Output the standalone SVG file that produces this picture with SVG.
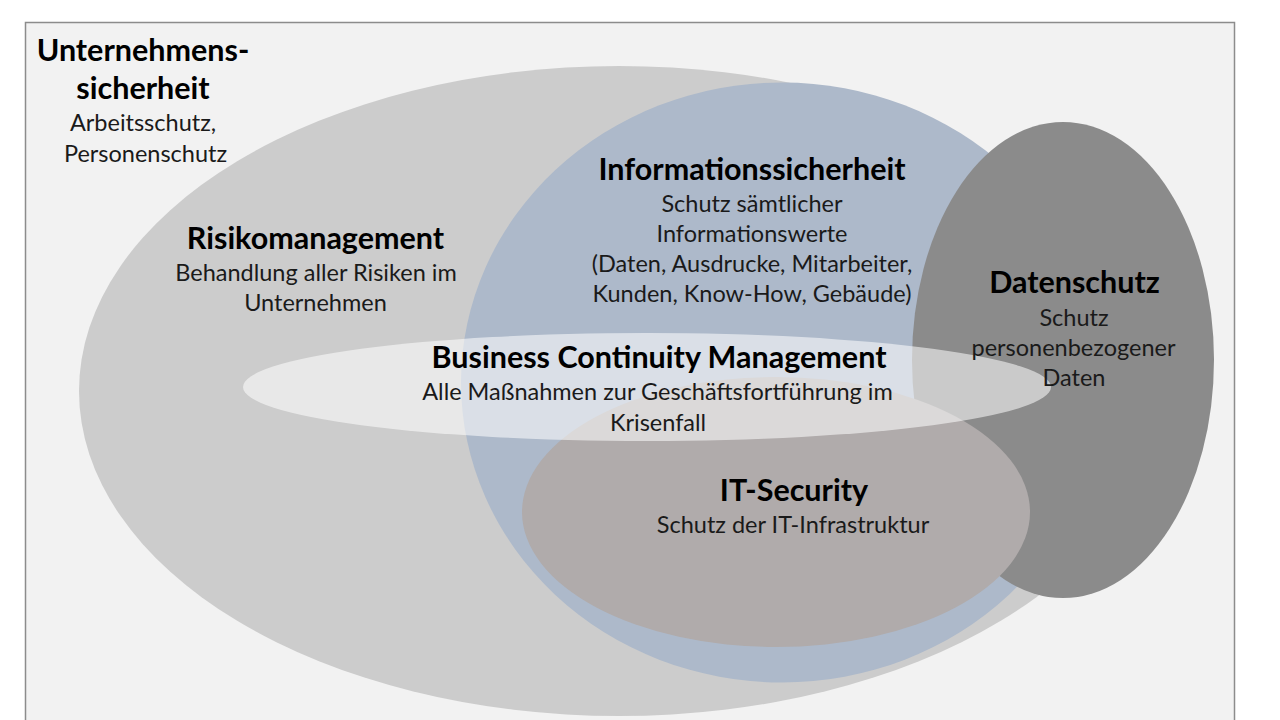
<svg xmlns="http://www.w3.org/2000/svg" width="1280" height="720" viewBox="0 0 1280 720">
<style>
.t{font-family:Lato,"Liberation Sans",sans-serif;text-anchor:middle;fill:#000}
.b{font-weight:bold;font-size:30.5px}
.r{font-size:23.5px;fill:#1a1a1a}
</style>
<rect x="0" y="0" width="1280" height="720" fill="#ffffff"/>
<rect x="25.5" y="22.5" width="1209" height="710" fill="#f2f2f2" stroke="#8c8c8c" stroke-width="1.5"/>
<g id="risikomanagement"><ellipse cx="619" cy="391" rx="540" ry="325" fill="#cccccc"/></g>
<g id="informationssicherheit"><ellipse cx="782" cy="382.5" rx="321" ry="300" fill="#adb9ca"/></g>
<g id="datenschutz"><ellipse cx="1063" cy="360" rx="151" ry="238" fill="#8b8b8b"/></g>
<g id="it-security"><ellipse cx="776" cy="512" rx="254" ry="135" fill="#b0abab"/></g>
<g id="bcm"><ellipse cx="647" cy="387" rx="404" ry="54" fill="#ffffff" fill-opacity="0.55"/></g>
<g id="connectors"></g>
<g id="labels">
<text class="t b" x="143" y="61">Unternehmens-</text>
<text class="t b" x="143" y="99">sicherheit</text>
<text class="t r" x="143" y="131">Arbeitsschutz,</text>
<text class="t r" x="145.5" y="162">Personenschutz</text>
<text class="t b" x="315.5" y="249">Risikomanagement</text>
<text class="t r" x="316" y="281">Behandlung aller Risiken im</text>
<text class="t r" x="315.5" y="311">Unternehmen</text>
<text class="t b" x="752" y="180">Informationssicherheit</text>
<text class="t r" x="752" y="212">Schutz sämtlicher</text>
<text class="t r" x="752" y="242">Informationswerte</text>
<text class="t r" x="752" y="272">(Daten, Ausdrucke, Mitarbeiter,</text>
<text class="t r" x="752" y="302">Kunden, Know-How, Gebäude)</text>
<text class="t b" x="1074.5" y="293">Datenschutz</text>
<text class="t r" x="1074" y="326">Schutz</text>
<text class="t r" x="1073.5" y="356">personenbezogener</text>
<text class="t r" x="1074" y="386">Daten</text>
<text class="t b" x="659" y="368">Business Continuity Management</text>
<text class="t r" x="657.5" y="400">Alle Maßnahmen zur Geschäftsfortführung im</text>
<text class="t r" x="658" y="431">Krisenfall</text>
<text class="t b" x="794" y="501">IT-Security</text>
<text class="t r" x="793" y="533">Schutz der IT-Infrastruktur</text>
</g>
</svg>
